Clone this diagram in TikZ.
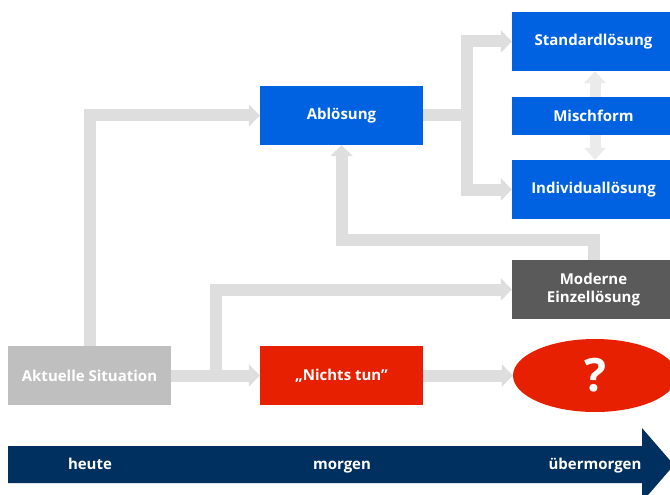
\documentclass[tikz,border=0pt]{standalone}
\usepackage{fontspec}
\setmainfont{Open Sans}
\usetikzlibrary{arrows.meta, calc, shapes.geometric}
\definecolor{blau}{RGB}{0,98,224}
\definecolor{rot}{RGB}{230,32,0}
\definecolor{hellgrau}{RGB}{191,191,191}
\definecolor{dunkelgrau}{RGB}{90,90,90}
\definecolor{linie}{RGB}{222,222,222}
\definecolor{linie2}{RGB}{235,235,235}
\definecolor{navy}{RGB}{0,48,96}
\tikzset{box/.style={
    rectangle,
    fill=blau,
    text=white,
    minimum width=163pt,
    minimum height=59pt,
    inner sep=0pt,
    align=center,
    font=\bfseries\fontsize{15}{18}\selectfont
}}
\tikzset{conn/.style={
    draw=linie,
    line width=12pt,
    -{Triangle[width=22pt,length=11pt]}
}}
\tikzset{label/.style={
    text=white,
    anchor=base,
    font=\bfseries\fontsize{15}{18}\selectfont
}}

\begin{document}
\begin{tikzpicture}[x=1pt, y=-1pt]
    \useasboundingbox (0,0) rectangle (670,495);
    % Boxes
    \node (akt) [box, fill=hellgrau] at (89.5,375.5) {Aktuelle Situation};
    \node (nichts) [box, fill=rot] at (341.5,375.5) {„Nichts tun”};
    \node (abl) [box] at (341.5,115.5) {Ablösung};
    \node (std) [box] at (593.5,41.5) {Standardlösung};
    \node (ind) [box] at (593.5,189.5) {Individuallösung};
    \draw [draw=linie2, line width=11pt,
        {Triangle[width=21pt,length=12pt]}-{Triangle[width=21pt,length=12pt]}]
        ([xshift=1.5pt]std.south) -- ([xshift=1.5pt]ind.north);
    \node (misch) [box, minimum height=37pt] at (593.5,116) {Mischform};
    \node (mod) [box, fill=dunkelgrau] at (593.5,289.5) {Moderne\\Einzellösung};
    \node (frage) [ellipse, fill=rot, text=white, minimum width=164pt, minimum height=73pt,
        inner sep=0pt, font=\bfseries\fontsize{46}{46}\selectfont] at (595,375.5) {?};
    % Connectors
    \coordinate (gabel) at ($(abl.east)+(44,0)$);
    \coordinate (knick) at ($(mod.north)+(0,-20)$);
    \draw [conn] (akt.north) |- (abl.west);
    \draw [conn] (akt.east) -- (nichts.west);
    \draw [conn] ($(akt.east)!0.5!(nichts.west)$) |- (mod.west);
    \draw [conn] (nichts.east) -- (frage.west);
    \draw [conn] (mod.north) -- (knick) -| (abl.south);
    \draw [conn] (abl.east) -- (gabel) |- (std.west);
    \draw [conn] (abl.east) -- (gabel) |- (ind.west);
    % Timeline
    \fill [navy] (8,446) -- (642,446) -- (642,428) -- (674,465)
        -- (642,502) -- (642,483) -- (8,483) -- cycle;
    \node (heute) [label] at (90,469) {heute};
    \node (morgen) [label] at (342,469) {morgen};
    \node (uebermorgen) [label] at (595,469) {übermorgen};
\end{tikzpicture}
\end{document}
